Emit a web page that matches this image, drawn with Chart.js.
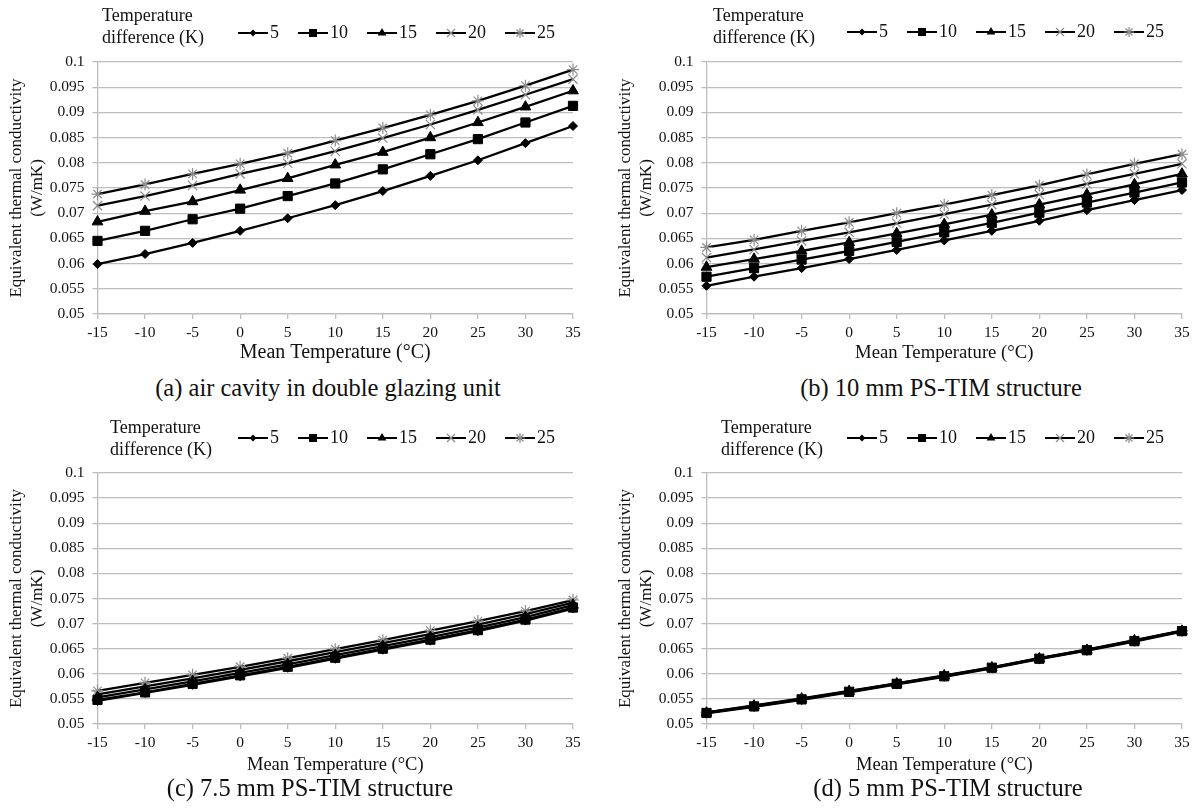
<!DOCTYPE html>
<html>
<head>
<meta charset="utf-8">
<script src="https://cdn.jsdelivr.net/npm/chart.js@4.4.1/dist/chart.umd.min.js"></script>
<style>
  body { margin: 0; background: #fff; }
  #page { position: relative; width: 1197px; height: 812px; overflow: hidden;
          font-family: 'Liberation Serif', 'Times New Roman', serif; color: #111; }
  canvas { position: absolute; }
  .legendTitle { position: absolute; font-size: 18px; line-height: 22px; white-space: nowrap; }
  .caption { position: absolute; width: 460px; text-align: center; font-size: 24.5px;
             line-height: 26px; white-space: nowrap; }
</style>
</head>
<body>
<div id="page">
  <canvas id="chartA" width="588" height="372" style="left:0px;top:0px"></canvas>
  <canvas id="chartB" width="588" height="372" style="left:609px;top:0px"></canvas>
  <canvas id="chartC" width="588" height="371" style="left:0px;top:411px"></canvas>
  <canvas id="chartD" width="588" height="371" style="left:609px;top:411px"></canvas>

  <div class="legendTitle" style="left:102px;top:4px">Temperature<br>difference (K)</div>
  <div class="legendTitle" style="left:713px;top:4px">Temperature<br>difference (K)</div>
  <div class="legendTitle" style="left:110px;top:416px">Temperature<br>difference (K)</div>
  <div class="legendTitle" style="left:721px;top:416px">Temperature<br>difference (K)</div>

  <div class="caption" style="left:98px;top:375px">(a) air cavity in double glazing unit</div>
  <div class="caption" style="left:711px;top:375px">(b) 10 mm PS-TIM structure</div>
  <div class="caption" style="left:80px;top:775px">(c) 7.5 mm PS-TIM structure</div>
  <div class="caption" style="left:718px;top:775px">(d) 5 mm PS-TIM structure</div>
</div>

<script>
// mean temperature (°C) and temperature difference (K)
const temps = [-15, -10, -5, 0, 5, 10, 15, 20, 25, 30, 35];
const deltaT = ['5', '10', '15', '20', '25'];

// (a) air cavity in double glazing unit
const a5  = [0.0599, 0.0619, 0.0641, 0.0665, 0.0690, 0.0716, 0.0744, 0.0774, 0.0805, 0.0839, 0.0873];
const a10 = [0.0645, 0.0665, 0.0688, 0.0709, 0.0734, 0.0759, 0.0787, 0.0817, 0.0847, 0.0880, 0.0913];
const a15 = [0.0683, 0.0704, 0.0723, 0.0746, 0.0769, 0.0796, 0.0821, 0.0850, 0.0880, 0.0911, 0.0943];
const a20 = [0.0715, 0.0734, 0.0755, 0.0778, 0.0799, 0.0823, 0.0849, 0.0876, 0.0905, 0.0935, 0.0966];
const a25 = [0.0738, 0.0757, 0.0778, 0.0798, 0.0819, 0.0844, 0.0869, 0.0895, 0.0923, 0.0953, 0.0985];

// (b) 10 mm PS-TIM
const b5  = [0.0556, 0.0574, 0.0591, 0.0609, 0.0627, 0.0646, 0.0665, 0.0685, 0.0706, 0.0726, 0.0746];
const b10 = [0.0574, 0.0591, 0.0608, 0.0625, 0.0643, 0.0662, 0.0681, 0.0701, 0.0721, 0.0741, 0.0761];
const b15 = [0.0593, 0.0609, 0.0625, 0.0642, 0.0660, 0.0678, 0.0697, 0.0717, 0.0737, 0.0757, 0.0778];
const b20 = [0.0612, 0.0628, 0.0645, 0.0662, 0.0680, 0.0698, 0.0717, 0.0737, 0.0758, 0.0778, 0.0798];
const b25 = [0.0632, 0.0647, 0.0665, 0.0682, 0.0700, 0.0717, 0.0736, 0.0755, 0.0777, 0.0798, 0.0817];

// (c) 7.5 mm PS-TIM
const c5  = [0.0546, 0.0562, 0.0578, 0.0595, 0.0612, 0.0630, 0.0648, 0.0666, 0.0685, 0.0706, 0.0730];
const c10 = [0.0548, 0.0563, 0.0580, 0.0597, 0.0614, 0.0632, 0.0650, 0.0668, 0.0687, 0.0708, 0.0732];
const c15 = [0.0553, 0.0569, 0.0585, 0.0602, 0.0619, 0.0637, 0.0655, 0.0673, 0.0692, 0.0713, 0.0737];
const c20 = [0.0559, 0.0575, 0.0591, 0.0608, 0.0625, 0.0643, 0.0661, 0.0679, 0.0698, 0.0719, 0.0742];
const c25 = [0.0566, 0.0582, 0.0598, 0.0614, 0.0631, 0.0649, 0.0667, 0.0686, 0.0705, 0.0725, 0.0747];

// (d) 5 mm PS-TIM
const d5  = [0.0521, 0.0534, 0.0548, 0.0563, 0.0579, 0.0594, 0.0611, 0.0629, 0.0646, 0.0664, 0.0684];
const d10 = [0.0522, 0.0535, 0.0549, 0.0564, 0.0580, 0.0595, 0.0612, 0.0630, 0.0647, 0.0665, 0.0685];
const d15 = [0.0522, 0.0536, 0.0550, 0.0565, 0.0580, 0.0596, 0.0612, 0.0630, 0.0647, 0.0666, 0.0685];
const d20 = [0.0523, 0.0536, 0.0550, 0.0565, 0.0581, 0.0596, 0.0613, 0.0631, 0.0648, 0.0666, 0.0686];
const d25 = [0.0523, 0.0537, 0.0551, 0.0566, 0.0581, 0.0597, 0.0613, 0.0631, 0.0648, 0.0667, 0.0686];

const FONT = "'Liberation Serif', 'Times New Roman', serif";
const GRID = '#bdbdbd';
Chart.defaults.font.family = FONT;

const markerStyle  = ['rectRot', 'rect', 'triangle', 'crossRot', 'star'];
const markerRadius = [4.5, 6.5, 6.2, 6.5, 6];
const markerColor  = ['#000', '#000', '#000', '#8c8c8c', '#8c8c8c'];

// small line + marker picture for the legend
function legendIcon(i) {
    const c = document.createElement('canvas');
    c.width = 30;
    c.height = 14;
    const ctx = c.getContext('2d');
    ctx.strokeStyle = '#000';
    ctx.lineWidth = 2;
    ctx.beginPath();
    ctx.moveTo(0, 7);
    ctx.lineTo(30, 7);
    ctx.stroke();

    const x = 15, y = 7;
    ctx.fillStyle = markerColor[i];
    ctx.strokeStyle = markerColor[i];
    ctx.lineWidth = 1.2;
    ctx.beginPath();
    if (i === 0) {
        ctx.moveTo(x, y - 3.5); ctx.lineTo(x + 3.5, y); ctx.lineTo(x, y + 3.5); ctx.lineTo(x - 3.5, y);
        ctx.closePath(); ctx.fill();
    } else if (i === 1) {
        ctx.rect(x - 4, y - 4, 8, 8); ctx.fill();
    } else if (i === 2) {
        ctx.moveTo(x, y - 5); ctx.lineTo(x + 4.4, y + 2.6); ctx.lineTo(x - 4.4, y + 2.6);
        ctx.closePath(); ctx.fill();
    } else if (i === 3) {
        ctx.moveTo(x - 4, y - 4); ctx.lineTo(x + 4, y + 4);
        ctx.moveTo(x + 4, y - 4); ctx.lineTo(x - 4, y + 4);
        ctx.stroke();
    } else {
        ctx.moveTo(x - 3.5, y - 3.5); ctx.lineTo(x + 3.5, y + 3.5);
        ctx.moveTo(x + 3.5, y - 3.5); ctx.lineTo(x - 3.5, y + 3.5);
        ctx.moveTo(x, y - 5); ctx.lineTo(x, y + 5);
        ctx.moveTo(x - 5, y); ctx.lineTo(x + 5, y);
        ctx.stroke();
    }
    return c;
}
const icons = deltaT.map((d, i) => legendIcon(i));

// move the legend row a little after layout (it sits beside the legend title)
const legendNudge = {
    id: 'legendNudge',
    afterLayout(chart, args, opts) {
        const lg = chart.legend;
        lg.left += opts.dx;
        lg.right += opts.dx;
        lg.top += opts.dy;
        lg.bottom += opts.dy;
    }
};

const panels = [
    { id: 'chartA', series: [a5, a10, a15, a20, a25], xTitleSize: 20,   xTitlePad: 5,   legendDy: -10 },
    { id: 'chartB', series: [b5, b10, b15, b20, b25], xTitleSize: 18.7, xTitlePad: 5.8, legendDy: -11 },
    { id: 'chartC', series: [c5, c10, c15, c20, c25], xTitleSize: 18.5, xTitlePad: 3.9, legendDy: -16 },
    { id: 'chartD', series: [d5, d10, d15, d20, d25], xTitleSize: 18.5, xTitlePad: 3.9, legendDy: -16 }
];

panels.forEach(p => {

    const datasets = p.series.map((vals, i) => ({
        label: deltaT[i],
        data: vals,
        borderColor: '#000',
        borderWidth: 2.3,
        pointStyle: markerStyle[i],
        pointRadius: markerRadius[i],
        pointBackgroundColor: markerColor[i],
        pointBorderColor: markerColor[i],
        pointBorderWidth: i > 2 ? 1.2 : 1,
        tension: 0,
        fill: false,
        clip: false
    }));

    new Chart(document.getElementById(p.id), {
        type: 'line',
        data: {
            labels: temps.map(String),
            datasets: datasets
        },
        plugins: [legendNudge],
        options: {
            responsive: false,
            animation: false,
            devicePixelRatio: 1,
            layout: {
                padding: { left: 2, right: 15, top: 8, bottom: 2 }
            },
            plugins: {
                tooltip: { enabled: false },
                legendNudge: { dx: 8, dy: p.legendDy },
                legend: {
                    display: true,
                    position: 'top',
                    align: 'end',
                    labels: {
                        usePointStyle: true,
                        pointStyleWidth: 16,
                        padding: 26,
                        color: '#111',
                        font: { family: FONT, size: 18 },
                        generateLabels: chart => chart.data.datasets.map((ds, i) => ({
                            text: ds.label,
                            pointStyle: icons[i],
                            fillStyle: 'transparent',
                            strokeStyle: 'transparent',
                            lineWidth: 0,
                            fontColor: '#111',
                            hidden: false,
                            datasetIndex: i
                        }))
                    }
                }
            },
            scales: {
                x: {
                    type: 'category',
                    offset: false,
                    afterFit: scale => { scale.height = 56; },
                    grid: { drawOnChartArea: false, drawTicks: true, tickLength: 5, color: GRID, lineWidth: 1.3 },
                    border: { color: GRID, width: 1.3 },
                    ticks: { color: '#111', padding: 5, maxRotation: 0, font: { family: FONT, size: 15.5 } },
                    title: {
                        display: true,
                        text: 'Mean Temperature (°C)',
                        color: '#111',
                        padding: { top: 0, bottom: p.xTitlePad },
                        font: { family: FONT, size: p.xTitleSize }
                    }
                },
                y: {
                    min: 0.05,
                    max: 0.1,
                    afterFit: scale => { scale.width = 95.5; },
                    grid: { color: GRID, lineWidth: 1.3, drawTicks: true, tickLength: 5 },
                    border: { color: GRID, width: 1.3 },
                    ticks: {
                        stepSize: 0.005,
                        padding: 8,
                        color: '#111',
                        font: { family: FONT, size: 15.5 },
                        callback: v => String(parseFloat(Number(v).toFixed(3)))
                    },
                    title: {
                        display: true,
                        text: ['Equivalent thermal conductivity', '(W/mK)'],
                        color: '#111',
                        padding: { top: 4.5, bottom: 2.5 },
                        font: { family: FONT, size: 17 }
                    }
                }
            }
        }
    });
});
</script>
</body>
</html>
